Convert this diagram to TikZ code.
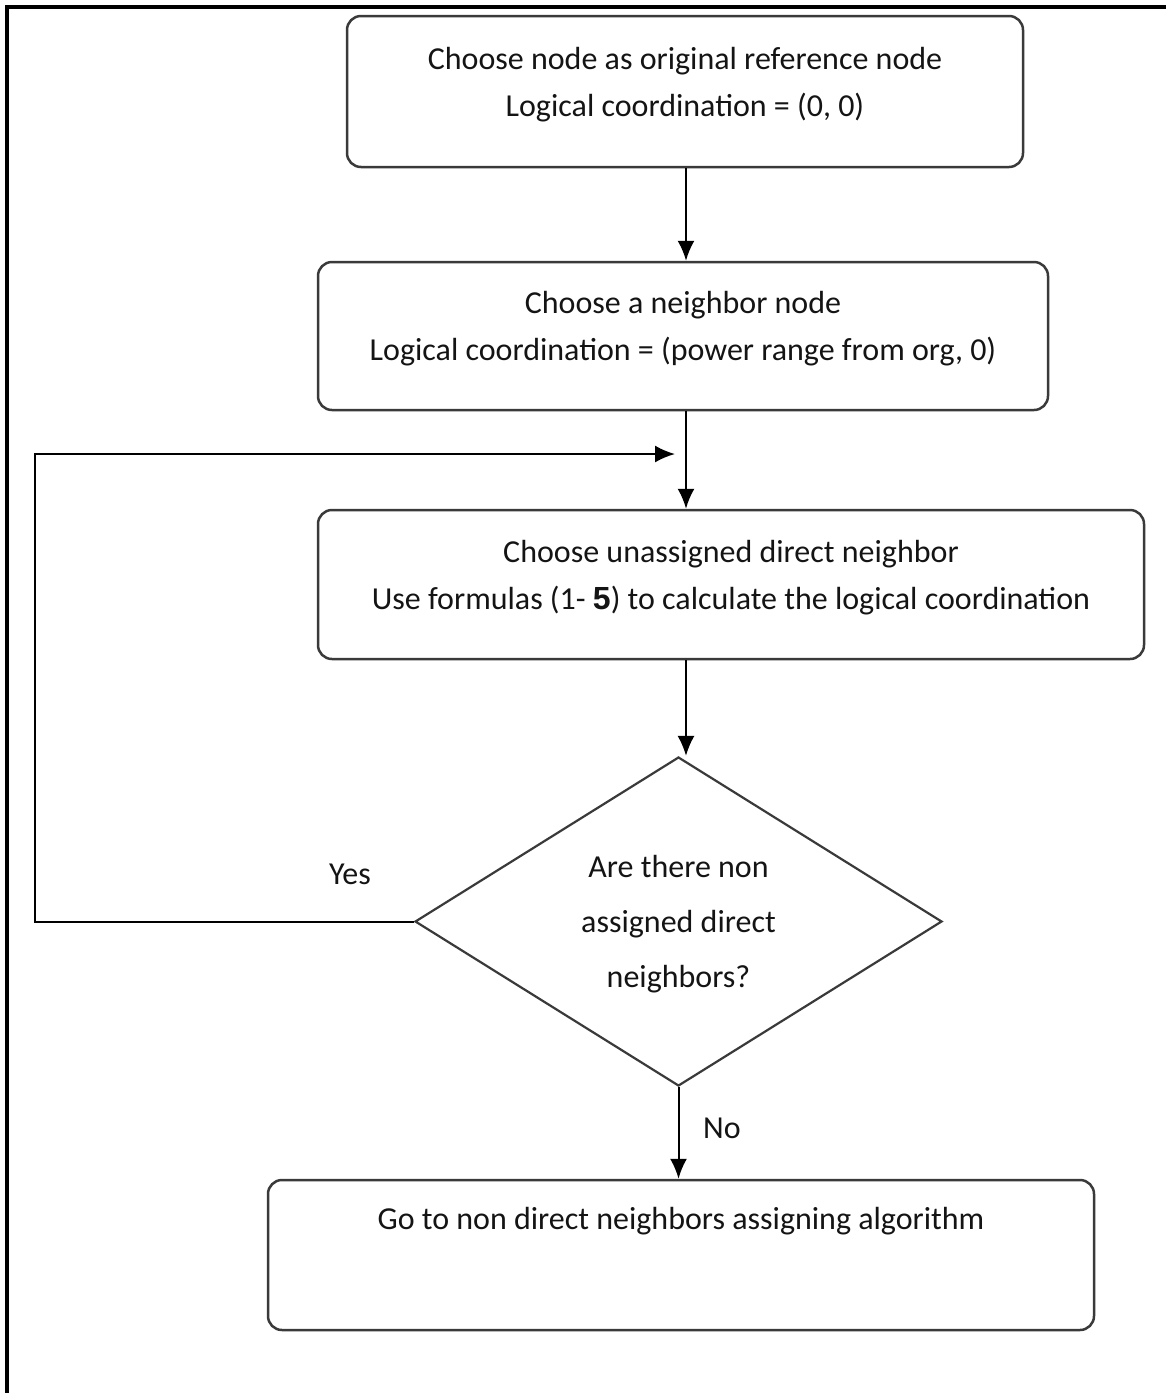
\documentclass[tikz,border=0pt]{standalone}
\usepackage{fontspec}
\setmainfont{Carlito}
\usetikzlibrary{shapes.geometric,arrows.meta}
\definecolor{boxgray}{HTML}{3A3A3A}
\definecolor{txt}{HTML}{141414}
\tikzset{
  stepbox/.style={draw=boxgray, line width=2.5pt, rounded corners=14pt, align=center, inner sep=0pt, text=txt, text depth=20pt},
  decision/.style={draw=boxgray, line width=2.2pt, diamond, aspect=1.6, inner sep=0pt, align=center, text=txt, text depth=-6pt},
  flow/.style={line width=2pt, -{Latex[length=20pt,width=17pt]}}
}
\begin{document}
\begin{tikzpicture}[x=1pt,y=-1pt,font=\fontsize{32}{47}\selectfont]
	\useasboundingbox (0,0) rectangle (1166,1393);
	\draw[line width=3.5pt](7,1393)--(7,7)--(1166,7);

	\node[stepbox, minimum width=676pt, minimum height=151pt] (orig) at (685,91.5)
		{Choose node as original reference node\\Logical coordination = (0, 0)};
	\node[stepbox, minimum width=730pt, minimum height=148pt] (nbr) at (683,336)
		{Choose a neighbor node\\Logical coordination = (power range from org, 0)};
	\node[stepbox, minimum width=826pt, minimum height=149pt] (direct) at (731,584.5)
		{Choose unassigned direct neighbor\\Use formulas (1- {\fontspec{Liberation Sans}\bfseries 5}) to calculate the logical coordination};
	\node[decision, minimum width=527pt, minimum height=329pt] (check) at (678.5,921.5)
		{Are there non\\[8pt]assigned direct\\[8pt]neighbors?};
	\node[stepbox, minimum width=826pt, minimum height=150pt] (nondirect) at (681,1255)
		{Go to non direct neighbors assigning algorithm\\[6pt] \mbox{}};

	% arrows
	\coordinate (axis) at (686,454);
	\coordinate (back) at (675,454);
	\coordinate (corner) at (35,454);
	\draw[flow](orig.south -| axis)--(nbr.north -| axis);
	\draw[flow](nbr.south -| axis)--(direct.north -| axis);
	\draw[flow](direct.south -| axis)--(check.north -| axis);
	\draw[flow](check.south)--(check.south |- nondirect.north);
	\draw[flow](check.west)-|(corner)--(back);

	\node[text=txt] (yes) at (350,874) {Yes};
	\node[text=txt] (no) at (722,1128) {No};
\end{tikzpicture}
\end{document}
